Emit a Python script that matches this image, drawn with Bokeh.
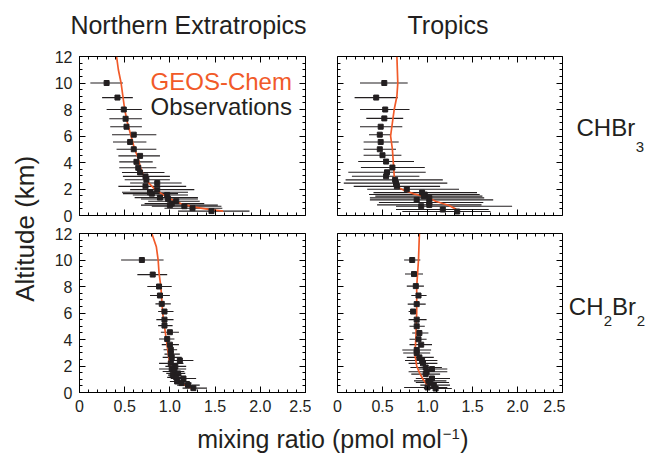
import math
from bokeh.plotting import figure
from bokeh.layouts import row, column
from bokeh.models import Range1d, LinearAxis, FixedTicker
from bokeh.core.properties import value
from bokeh.embed import file_html
from bokeh.resources import INLINE

FONT = "Liberation Sans"
INK = "#231F20"
ORANGE = "#F15A29"

# ---------------- axis ticks and labels ----------------
X_TICKS = [0.0, 0.5, 1.0, 1.5, 2.0, 2.5]
X_TICK_LABELS = ["0", "0.5", "1.0", "1.5", "2.0", "2.5"]
X_MINOR = [0.1 * i for i in range(26)]
Y_TICKS = [0, 2, 4, 6, 8, 10, 12]
Y_TICK_LABELS = ["0", "2", "4", "6", "8", "10", "12"]
Y_MINOR = [0.5 * i for i in range(25)]

COLUMN_TITLES = ["Northern Extratropics", "Tropics"]
X_LABEL = ["mixing ratio (pmol mol", "\u22121", ")"]
Y_LABEL = "Altitude (km)"
LEGEND_TEXT = ["GEOS-Chem", "Observations"]

# ---------------- Northern Extratropics, CHBr3 ----------------
NE_CHBR3_ALT = [10.0, 8.9, 8.0, 7.3, 6.7, 6.1, 5.55, 5.0, 4.5, 4.05, 3.6, 3.25, 2.95, 2.7,
                2.45, 2.2, 1.95, 1.75, 1.65, 1.55, 1.35, 1.25, 1.08, 0.9, 0.78, 0.7, 0.55, 0.33]
NE_CHBR3_OBS = [0.30, 0.42, 0.49, 0.51, 0.52, 0.60, 0.56, 0.60, 0.67, 0.63, 0.65, 0.67, 0.73, 0.74,
                0.86, 0.73, 0.86, 0.78, 0.80, 0.97, 0.89, 0.98, 1.07, 1.02, 1.00, 1.16, 1.25, 1.46]
NE_CHBR3_LO = [0.12, 0.25, 0.30, 0.33, 0.34, 0.36, 0.37, 0.41, 0.43, 0.44, 0.44, 0.47, 0.48, 0.50,
               0.56, 0.43, 0.56, 0.47, 0.48, 0.59, 0.61, 0.68, 0.76, 0.72, 0.68, 0.80, 0.94, 1.09]
NE_CHBR3_HI = [0.48, 0.59, 0.69, 0.69, 0.69, 0.85, 0.74, 0.85, 0.89, 0.81, 0.85, 0.94, 1.00, 1.00,
               1.13, 1.18, 1.27, 1.20, 1.09, 1.20, 1.31, 1.31, 1.33, 1.38, 1.53, 1.57, 1.58, 1.88]
NE_CHBR3_MOD_ALT = [12, 11, 10, 9, 8, 7, 6, 5, 4.5, 4, 3.5, 3, 2.5, 2, 1.5, 1.2, 0.9, 0.63, 0.45, 0.33]
NE_CHBR3_MOD = [0.41, 0.43, 0.46, 0.48, 0.50, 0.53, 0.57, 0.61, 0.64, 0.66, 0.68, 0.71, 0.76, 0.83,
                0.94, 1.02, 1.12, 1.27, 1.45, 1.59]

# ---------------- Tropics, CHBr3 ----------------
TR_CHBR3_ALT = [10.0, 8.9, 8.0, 7.33, 6.7, 6.1, 5.55, 5.0, 4.55, 4.07, 3.62, 3.26, 2.96, 2.69,
                2.44, 2.2, 1.98, 1.73, 1.58, 1.46, 1.33, 1.18, 0.98, 0.8, 0.7, 0.45, 0.3]
TR_CHBR3_OBS = [0.52, 0.43, 0.53, 0.52, 0.48, 0.47, 0.48, 0.47, 0.50, 0.54, 0.61, 0.55, 0.54, 0.64,
                0.65, 0.66, 0.77, 0.94, 0.97, 0.96, 1.02, 0.88, 1.02, 1.02, 0.93, 1.17, 1.33]
TR_CHBR3_LO = [0.25, 0.19, 0.25, 0.32, 0.25, 0.35, 0.29, 0.29, 0.29, 0.23, 0.26, 0.12, 0.16, 0.09,
               0.07, 0.18, 0.33, 0.40, 0.35, 0.42, 0.36, 0.36, 0.46, 0.44, 0.65, 0.65, 0.72]
TR_CHBR3_HI = [0.78, 0.67, 0.80, 0.73, 0.72, 0.59, 0.68, 0.65, 0.71, 0.85, 0.97, 0.98, 0.91, 1.17,
               1.22, 1.14, 1.35, 1.55, 1.58, 1.61, 1.63, 1.73, 1.62, 1.60, 1.94, 1.68, 1.70]
TR_CHBR3_MOD_ALT = [12, 10, 9, 8, 7, 6, 5, 4, 3, 2.5, 2.1, 1.9, 1.63, 1.38, 1.08, 0.75, 0.5, 0.3]
TR_CHBR3_MOD = [0.66, 0.67, 0.66, 0.63, 0.61, 0.59, 0.61, 0.62, 0.63, 0.64, 0.68, 0.74, 0.85, 1.00,
                1.09, 1.24, 1.31, 1.35]

# ---------------- Northern Extratropics, CH2Br2 ----------------
NE_CH2BR2_ALT = [10.0, 8.9, 8.0, 7.32, 6.69, 6.11, 5.5, 5.05, 4.55, 4.04, 3.61, 3.23, 2.9, 2.65,
                 2.42, 2.2, 1.97, 1.77, 1.59, 1.44, 1.31, 1.14, 1.06, 0.83, 0.71, 0.56, 0.33]
NE_CH2BR2_OBS = [0.69, 0.81, 0.88, 0.89, 0.91, 0.94, 0.94, 0.94, 1.00, 0.97, 1.00, 1.01, 1.01, 1.02,
                 1.11, 1.01, 1.06, 1.02, 1.05, 1.09, 1.03, 1.07, 1.15, 1.08, 1.13, 1.20, 1.26]
NE_CH2BR2_LO = [0.46, 0.64, 0.75, 0.78, 0.84, 0.87, 0.85, 0.87, 0.90, 0.88, 0.91, 0.93, 0.94, 0.92,
                0.99, 0.88, 0.95, 0.88, 0.92, 0.96, 0.98, 0.97, 1.01, 1.00, 1.05, 1.08, 1.14]
NE_CH2BR2_HI = [0.93, 0.97, 1.02, 1.00, 1.01, 1.04, 1.04, 1.03, 1.10, 1.05, 1.10, 1.08, 1.11, 1.13,
                1.26, 1.15, 1.18, 1.18, 1.16, 1.17, 1.13, 1.17, 1.29, 1.22, 1.24, 1.33, 1.41]
NE_CH2BR2_MOD_ALT = [12, 11, 10, 9, 8, 7, 6, 5, 4, 3, 2, 1.5, 1.0, 0.63, 0.33]
NE_CH2BR2_MOD = [0.80, 0.85, 0.87, 0.88, 0.90, 0.91, 0.92, 0.94, 0.96, 0.98, 1.00, 1.03, 1.07, 1.14, 1.24]

# ---------------- Tropics, CH2Br2 ----------------
TR_CH2BR2_ALT = [10.0, 8.94, 8.03, 7.32, 6.67, 6.11, 5.5, 5.0, 4.49, 4.02, 3.61, 3.21, 2.98, 2.65,
                 2.42, 2.2, 1.89, 1.77, 1.57, 1.39, 1.06, 0.88, 0.76, 0.56, 0.38, 0.30]
TR_CH2BR2_OBS = [0.83, 0.85, 0.87, 0.90, 0.88, 0.84, 0.88, 0.88, 0.91, 0.90, 0.93, 0.88, 0.88, 0.91,
                 0.94, 0.95, 0.98, 1.05, 0.99, 0.98, 1.05, 1.01, 1.03, 1.07, 1.00, 1.09]
TR_CH2BR2_LO = [0.74, 0.75, 0.77, 0.82, 0.78, 0.79, 0.79, 0.80, 0.83, 0.80, 0.80, 0.72, 0.73, 0.77,
                0.75, 0.79, 0.81, 0.90, 0.79, 0.82, 0.87, 0.85, 0.87, 0.92, 0.74, 0.96]
TR_CH2BR2_HI = [0.92, 0.95, 0.96, 0.99, 0.98, 0.88, 0.99, 0.97, 1.01, 0.99, 1.05, 1.04, 1.03, 1.07,
                1.11, 1.11, 1.16, 1.22, 1.22, 1.14, 1.25, 1.21, 1.24, 1.25, 1.22, 1.27]
TR_CH2BR2_MOD_ALT = [12, 10, 8, 6, 4, 2.9, 2.0, 1.5, 1.0, 0.63, 0.38]
TR_CH2BR2_MOD = [0.91, 0.90, 0.88, 0.88, 0.87, 0.86, 0.88, 0.91, 0.95, 0.99, 1.00]


def style_axis(ax, show_labels, is_x):
    ax.axis_line_color = "black"
    ax.axis_line_width = 1
    ax.major_tick_line_color = "black"
    ax.minor_tick_line_color = "black"
    ax.major_tick_in = 6
    ax.major_tick_out = 0
    ax.minor_tick_in = 3
    ax.minor_tick_out = 0
    ax.major_label_text_font = FONT
    ax.major_label_text_font_size = "16px"
    ax.major_label_standoff = 7
    if is_x:
        ax.major_label_overrides = {float(t): l for t, l in zip(X_TICKS, X_TICK_LABELS)}
    else:
        ax.major_label_overrides = {int(t): l for t, l in zip(Y_TICKS, Y_TICK_LABELS)}
    ax.major_label_text_color = INK if show_labels else None


def make_panel(alt, obs, lo, hi, mod_alt, mod, frame_w, borders, xlabels, ylabels):
    p = figure(frame_width=frame_w, frame_height=159,
               x_range=Range1d(0, 2.5), y_range=Range1d(0, 12),
               x_axis_type=None, y_axis_type=None,
               toolbar_location=None, output_backend="svg",
               min_border_left=borders[0], min_border_right=borders[1],
               min_border_top=borders[2], min_border_bottom=borders[3])
    p.outline_line_color = "black"
    p.outline_line_width = 1
    p.background_fill_color = "white"
    p.border_fill_color = "white"
    xt = FixedTicker(ticks=X_TICKS, minor_ticks=X_MINOR)
    yt = FixedTicker(ticks=Y_TICKS, minor_ticks=Y_MINOR)
    # (side, is_x, show labels, fixed location for label-less mirror axes)
    specs = [("below", True, xlabels, None if xlabels else 0.0),
             ("above", True, False, 12.0),
             ("left", False, ylabels, None if ylabels else 0.0),
             ("right", False, False, 2.5)]
    for side, is_x, show, fixed in specs:
        ax = LinearAxis(ticker=xt if is_x else yt)
        if fixed is not None:
            ax.fixed_location = fixed
        style_axis(ax, show, is_x)
        p.add_layout(ax, side)
    p.segment(x0=lo, y0=alt, x1=hi, y1=alt, line_color=INK, line_width=1.1)
    p.line(mod, mod_alt, line_color=ORANGE, line_width=1.7)
    p.scatter(obs, alt, marker="square", size=5, fill_color=INK, line_color=INK)
    return p


def strip(w, h):
    s = figure(width=w, height=h, x_range=Range1d(0, w), y_range=Range1d(0, h),
               x_axis_type=None, y_axis_type=None, toolbar_location=None,
               output_backend="svg", min_border=0)
    s.min_border_left = 0
    s.min_border_right = 0
    s.min_border_top = 0
    s.min_border_bottom = 0
    s.outline_line_color = None
    s.background_fill_color = "white"
    s.border_fill_color = "white"
    return s


def put_text(fig, x, y, txt, size, color=INK, align="left", angle=0.0):
    # y is the vertical centre of the capitals
    fig.text(x=[x], y=[y], text=[txt], text_font=value(FONT), text_font_size=size,
             text_color=color, text_align=align, text_baseline="middle", angle=angle)


tl = make_panel(NE_CHBR3_ALT, NE_CHBR3_OBS, NE_CHBR3_LO, NE_CHBR3_HI,
                NE_CHBR3_MOD_ALT, NE_CHBR3_MOD, 226, (31, 6, 8, 9), False, True)
tr = make_panel(TR_CHBR3_ALT, TR_CHBR3_OBS, TR_CHBR3_LO, TR_CHBR3_HI,
                TR_CHBR3_MOD_ALT, TR_CHBR3_MOD, 225, (26, 3, 8, 9), False, False)
bl = make_panel(NE_CH2BR2_ALT, NE_CH2BR2_OBS, NE_CH2BR2_LO, NE_CH2BR2_HI,
                NE_CH2BR2_MOD_ALT, NE_CH2BR2_MOD, 226, (31, 6, 9, 26), True, True)
br = make_panel(TR_CH2BR2_ALT, TR_CH2BR2_OBS, TR_CH2BR2_LO, TR_CH2BR2_HI,
                TR_CH2BR2_MOD_ALT, TR_CH2BR2_MOD, 225, (26, 3, 9, 26), True, False)

# legend inside the top-left panel
put_text(tl, 2.35, 10.09, LEGEND_TEXT[0], "24px", color=ORANGE, align="right")
put_text(tl, 2.35, 8.21, LEGEND_TEXT[1], "24px", color=INK, align="right")

# top strip: column titles
top = strip(645, 48)
put_text(top, 188, 23.5, COLUMN_TITLES[0], "25px", align="center")
put_text(top, 447.5, 23.5, COLUMN_TITLES[1], "25px", align="center")

# left strip: y label
left = strip(48, 370)
put_text(left, 24, 189.7, Y_LABEL, "26px", align="center", angle=math.pi / 2)

# right strip: species labels
right = strip(80, 370)
put_text(right, 11, 290.8, "CHBr", "24px")
put_text(right, 70.2, 271.5, "3", "15px")
put_text(right, 3.3, 112.2, "CH", "24px")
put_text(right, 38.2, 98.0, "2", "15px")
put_text(right, 46.6, 112.2, "Br", "24px")
put_text(right, 71.2, 98.0, "2", "15px")

# bottom strip: x label
bottom = strip(645, 35)
put_text(bottom, 196.7, 14.5, X_LABEL[0], "25px")
put_text(bottom, 442.2, 19.5, X_LABEL[1], "15px")
put_text(bottom, 459.8, 14.5, X_LABEL[2], "25px")

grid = column(row(tl, tr), row(bl, br))
layout = column(top, row(left, grid, right), bottom)

open("out.html", "w").write(file_html(layout, INLINE))
